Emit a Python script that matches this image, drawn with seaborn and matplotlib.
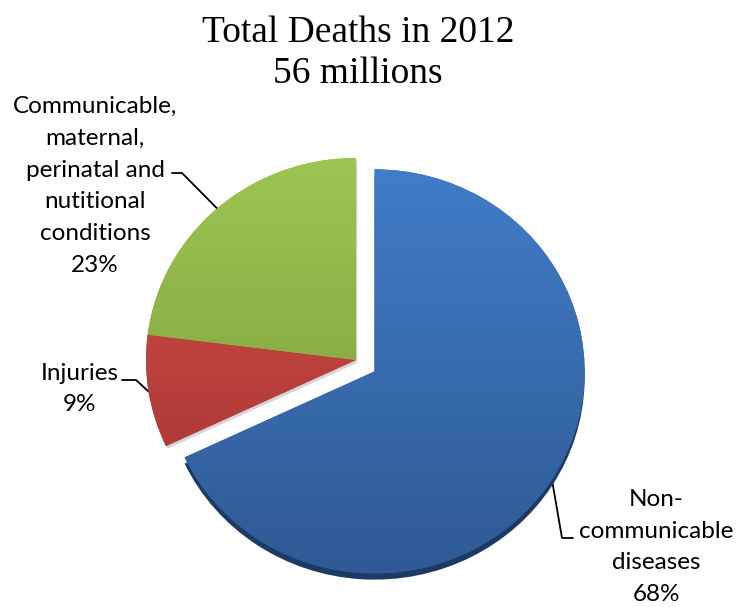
import numpy as np
import matplotlib
matplotlib.use("Agg")
import matplotlib.pyplot as plt
import matplotlib.patheffects as pe
from matplotlib.colors import LinearSegmentedColormap
import seaborn as sns

# ---------------- data ----------------
categories = ["Non-\ncommunicable\ndiseases", "Injuries",
              "Communicable,\nmaternal,\nperinatal and\nnutitional\nconditions"]
shares = [68, 9, 23]
explode_frac = [0.105, 0, 0]
title_lines = ["Total Deaths in 2012", "56 millions"]

# ---------------- style ----------------
sns.set_theme(style="white")
plt.rcParams["font.family"] = ["Lato", "DejaVu Sans"]
plt.rcParams["text.color"] = "black"

W, H = 742, 607
SY = 0.962  # slight vertical squash of the pie (3-D look)
fig = plt.figure(figsize=(W / 100, H / 100), dpi=100)
ax = fig.add_axes([0, 0, 1, 1])

def Y(y):
    return (H - y) / SY

R = 210
base = ["#3a6fb4", "#c7413d", "#8fb548"]
tops = ["#417cc8", "#d4504b", "#9dc552"]
bots = ["#2f5a94", "#a3322f", "#779838"]

wedges, _ = ax.pie(shares, explode=[e * R for e in explode_frac], startangle=90,
                   counterclock=False, colors=base, radius=R, center=(356, Y(360)),
                   wedgeprops=dict(linewidth=0))

for i, w in enumerate(wedges):
    cmap = LinearSegmentedColormap.from_list("g%d" % i, [bots[i], tops[i]])
    cx, cy = w.center
    r = w.r
    grad = np.linspace(0, 1, 256).reshape(-1, 1)
    im = ax.imshow(grad, cmap=cmap, origin="lower", aspect="auto",
                   extent=[cx - r, cx + r, cy - r, cy + r], zorder=w.get_zorder() + 0.1)
    im.set_clip_path(w)
    if i == 0:
        w.set_path_effects([pe.SimplePatchShadow(offset=(0, -4.5), shadow_rgbFace="#1d3a64", alpha=1.0),
                            pe.Normal()])
    else:
        w.set_path_effects([pe.SimplePatchShadow(offset=(1, -2), shadow_rgbFace="#777777", alpha=0.3),
                            pe.Normal()])

# ---------------- labels ----------------
label_texts = ["%s\n%d%%" % (c, s) for c, s in zip(categories, shares)]
label_pos = [(656, 547), (80, 389), (95, 186)]
elbows = [[(573, 538), (562, 538)], [(122, 380), (136, 380)], [(172, 173), (182, 173)]]
for i, w in enumerate(wedges):
    ax.text(label_pos[i][0], Y(label_pos[i][1]), label_texts[i], ha="center", va="center",
            fontsize=17.5, linespacing=1.63, color="black")
    mid = np.deg2rad((w.theta1 + w.theta2) / 2)
    cx, cy = w.center
    anchor = (cx + w.r * np.cos(mid), cy + w.r * np.sin(mid))
    xs = [elbows[i][0][0], elbows[i][1][0], anchor[0]]
    ys = [Y(elbows[i][0][1]), Y(elbows[i][1][1]), anchor[1]]
    ax.plot(xs, ys, color="black", lw=1.3, zorder=0.5)

for line, yb in zip(title_lines, [42, 83]):
    ax.text(358, Y(yb), line, ha="center", va="baseline", color="black",
            fontsize=27, family=["Liberation Serif", "DejaVu Serif"])

ax.set_xlim(0, W)
ax.set_ylim(0, H / SY)
ax.set_aspect("auto")
ax.axis("off")

fig.savefig("out.png", dpi=100, facecolor="white")
